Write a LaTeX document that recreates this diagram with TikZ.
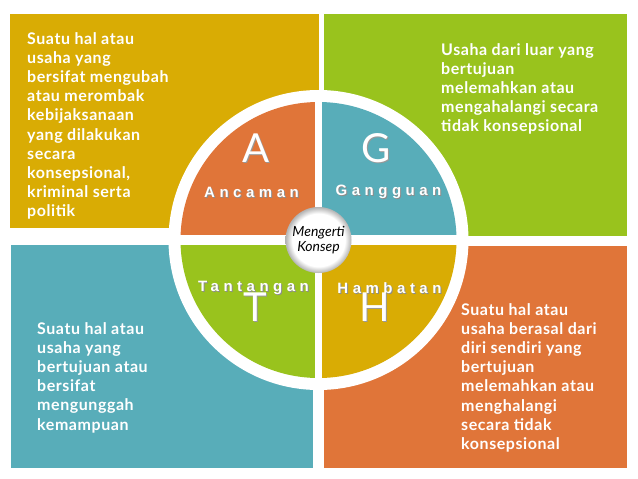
\documentclass[tikz,border=0pt]{standalone}
\usepackage{fontspec}
\setmainfont{Lato}
\newfontfamily\descfont[LetterSpace=3.5]{Lato}
\newfontfamily\labelfont[LetterSpace=30]{Liberation Sans}
\newfontfamily\bigfont{Lato}
\definecolor{cgold}{RGB}{217,172,4}
\definecolor{cgreen}{RGB}{153,195,29}
\definecolor{cteal}{RGB}{88,173,185}
\definecolor{corange}{RGB}{224,117,57}
\pgfdeclareradialshading{ringshade}{\pgfpoint{0bp}{0bp}}{color(0bp)=(white); color(20bp)=(white); color(25bp)=(gray!60); color(50bp)=(gray!60)}
\tikzset{
  desc/.style={text=white, font=\descfont\bfseries\fontsize{16}{19.2}\selectfont, align=left, inner sep=0pt, anchor=north west},
  lab/.style={text=white, font=\labelfont\bfseries\fontsize{15}{18}\selectfont, inner sep=0pt},
  labsh/.style={lab, text=black!45},
  big/.style={text=white, font=\bigfont\fontsize{40}{40}\selectfont, inner sep=0pt},
  bigsh/.style={big, text=black!40}
}
\begin{document}
\begin{tikzpicture}[x=1pt,y=-1pt]
\useasboundingbox (0,0) rectangle (638,479);
\fill[white] (0,0) rectangle (638,479);
% outer boxes
\fill[cgold] (10,14) rectangle (319,228);
\fill[cgreen] (324,14) rectangle (627,236);
\fill[cteal] (11,245) rectangle (313,468);
\fill[corange] (324,246) rectangle (627,468);
% white ring
\fill[white] (318.5,240) circle (150);
% quadrants
\begin{scope}
  \clip (318.5,240) circle (138);
  \fill[corange] (170,90) rectangle (315,235);
  \fill[cteal] (322,90) rectangle (470,235);
  \fill[cgreen] (170,245) rectangle (315,390);
  \fill[cgold] (322,245) rectangle (470,390);
\end{scope}
% centre
\node[circle, minimum size=66pt, inner sep=0pt, shading=ringshade, align=center,
      font=\itshape\fontsize{14}{15.5}\selectfont] (centre) at (318.5,240) {Mengerti\\Konsep};
% quadrant labels
\node[labsh] (ancS) at (252.5,193) {Ancaman};
\node[lab] (anc) at (251.5,192) {Ancaman};
\node[labsh] (ganS) at (389.5,193) {Gangguan};
\node[lab] (gan) at (388.5,192) {Gangguan};
\node[labsh] (tanS) at (254.5,289) {Tantangan};
\node[lab] (tan) at (253.5,288) {Tantangan};
\node[labsh] (hamS) at (390.5,289) {Hambatan};
\node[lab] (ham) at (389.5,288) {Hambatan};
% big letters
\node[bigsh] (aS) at (257,149) {A};
\node[big] (a) at (256,148) {A};
\node[bigsh] (gS) at (377,149) {G};
\node[big] (g) at (376,148) {G};
\node[bigsh] (tS) at (256,308) {T};
\node[big] (t) at (255,307) {T};
\node[bigsh] (hS) at (376,308) {H};
\node[big] (h) at (375,307) {H};
% descriptions
\node[desc] (dtl) at (27,32) {Suatu hal atau\\usaha yang\\bersifat mengubah\\atau merombak\\kebijaksanaan\\yang dilakukan\\secara\\konsepsional,\\kriminal serta\\politik};
\node[desc] (dtr) at (441,43) {Usaha dari luar yang\\bertujuan\\melemahkan atau\\mengahalangi secara\\tidak konsepsional};
\node[desc] (dbl) at (37,322) {Suatu hal atau\\usaha yang\\bertujuan atau\\bersifat\\mengunggah\\kemampuan};
\node[desc] (dbr) at (461,303) {Suatu hal atau\\usaha berasal dari\\diri sendiri yang\\bertujuan\\melemahkan atau\\menghalangi\\secara tidak\\konsepsional};
\end{tikzpicture}
\end{document}
